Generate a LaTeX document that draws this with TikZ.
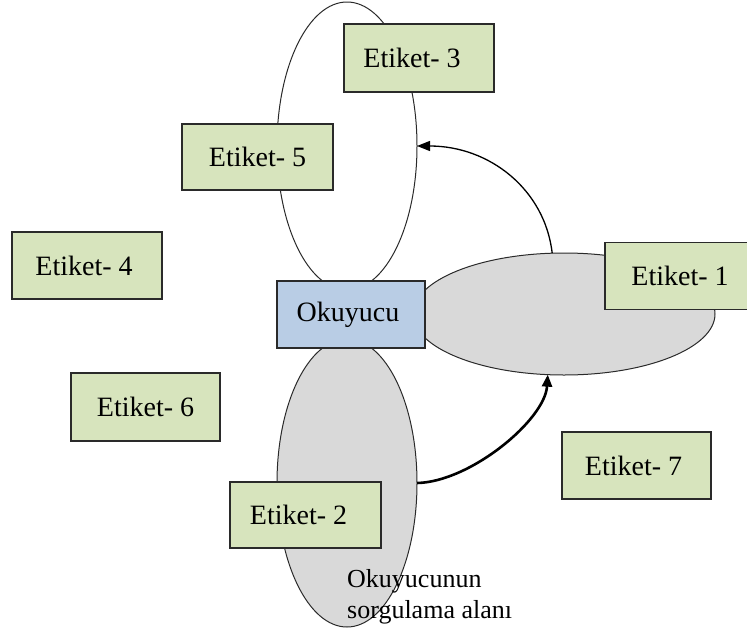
\documentclass[tikz,border=0pt]{standalone}
\usepackage{fontspec}
\setmainfont{Liberation Serif}
\usetikzlibrary{shapes.geometric,arrows.meta}
\definecolor{tagfill}{HTML}{D7E4BD}
\definecolor{readerfill}{HTML}{B9CDE5}
\definecolor{zonefill}{HTML}{D9D9D9}
\definecolor{edge}{HTML}{2A2A2A}
\begin{document}
\begin{tikzpicture}[x=1pt,y=-1pt,
  tagbox/.style={draw=edge,line width=1.2pt,fill=tagfill,minimum width=150pt,minimum height=67pt,
    inner sep=0pt,font=\fontsize{28}{32}\selectfont},
  readerbox/.style={tagbox,fill=readerfill,minimum width=148pt},
  zone/.style={ellipse,draw=edge,line width=1pt,inner sep=0pt,outer sep=0pt},
  thinarrow/.style={line width=1.3pt,-{Triangle[length=13pt,width=10pt]}},
  thickarrow/.style={line width=2.6pt,-{Triangle[length=12pt,width=10pt]}}]
\useasboundingbox (0,0) rectangle (747,632);

% reading zones
\node[zone,fill=white,minimum width=140pt,minimum height=288pt] (ztop) at (347,146) {};
\node[zone,fill=zonefill,minimum width=302pt,minimum height=122pt] (zright) at (564,314) {};
\node[zone,fill=zonefill,minimum width=140pt,minimum height=288pt] (zbot) at (347,483) {};

% movement of the reader field
\draw[thinarrow] (zright.101) .. controls (545,190) and (490,146) .. (ztop.east);
\draw[thickarrow] (zbot.east) .. controls (470,482) and (545,420) .. (zright.-105);

% reader and tags
\node[readerbox] (reader) at (351,314.5) {\hspace*{-6pt}Okuyucu};
\node[tagbox] (t1) at (680,276) {Etiket- 1};
\node[tagbox,minimum width=151pt,minimum height=66pt] (t2) at (305.5,515) {\hspace*{-14pt}Etiket- 2};
\node[tagbox,minimum height=68pt] (t3) at (419,58) {\hspace*{-14pt}Etiket- 3};
\node[tagbox] (t4) at (87,265.5) {\hspace*{-6pt}Etiket- 4};
\node[tagbox,minimum width=151pt,minimum height=66pt] (t5) at (257.5,157) {Etiket- 5};
\node[tagbox,minimum width=149pt,minimum height=68pt] (t6) at (145.5,407) {Etiket- 6};
\node[tagbox,minimum width=149pt] (t7) at (636.5,465.5) {\hspace*{-6pt}Etiket- 7};

\node[anchor=north west,align=left,inner sep=0pt,font=\fontsize{26}{31}\selectfont] (zonelabel)
  at (347,569) {Okuyucunun\\sorgulama alanı};
\end{tikzpicture}
\end{document}
